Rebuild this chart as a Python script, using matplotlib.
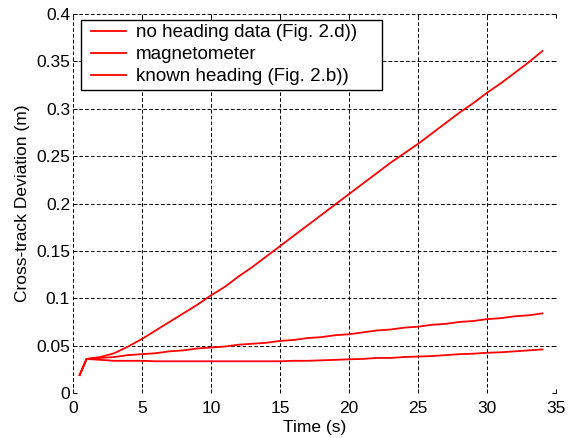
import matplotlib
matplotlib.use('Agg')
import matplotlib.pyplot as plt
from matplotlib.lines import Line2D
from matplotlib.patches import Rectangle

plt.rcParams['font.family'] = ['Liberation Sans', 'DejaVu Sans']
plt.rcParams['lines.scale_dashes'] = False

# time axis (s)
t = [0.5, 1, 2, 3, 4, 5, 6, 7, 8, 9, 10, 11, 12, 13, 14, 15, 16, 17, 18,
     19, 20, 21, 22, 23, 24, 25, 26, 27, 28, 29, 30, 31, 32, 33, 34]

# cross-track deviation (m)
no_heading = [0.019, 0.036, 0.038, 0.042, 0.049, 0.057, 0.066, 0.075, 0.084,
              0.093, 0.103, 0.112, 0.123, 0.133, 0.144, 0.155, 0.166, 0.177,
              0.188, 0.199, 0.210, 0.221, 0.232, 0.243, 0.253, 0.263, 0.274,
              0.285, 0.296, 0.306, 0.317, 0.327, 0.338, 0.349, 0.361]
magnetometer = [0.019, 0.036, 0.037, 0.038, 0.040, 0.041, 0.042, 0.044, 0.045,
                0.047, 0.048, 0.049, 0.051, 0.052, 0.053, 0.055, 0.056, 0.058,
                0.059, 0.061, 0.062, 0.064, 0.066, 0.067, 0.069, 0.070, 0.072,
                0.073, 0.075, 0.076, 0.078, 0.079, 0.081, 0.082, 0.084]
known_heading = [0.019, 0.036, 0.035, 0.034, 0.034, 0.034, 0.0335, 0.0335,
                 0.0335, 0.0335, 0.0335, 0.0335, 0.0335, 0.0335, 0.0335,
                 0.0335, 0.034, 0.034, 0.0345, 0.035, 0.0356, 0.036, 0.037,
                 0.037, 0.038, 0.0385, 0.039, 0.040, 0.041, 0.0415, 0.0425,
                 0.043, 0.044, 0.045, 0.046]

labels = ['no heading data (Fig. 2.d))', 'magnetometer', 'known heading (Fig. 2.b))']
xticks = [0, 5, 10, 15, 20, 25, 30, 35]
yticks = [0, 0.05, 0.1, 0.15, 0.2, 0.25, 0.3, 0.35, 0.4]
ytick_labels = ['0', '0.05', '0.1', '0.15', '0.2', '0.25', '0.3', '0.35', '0.4']

fs = 12.5
leg_fs = 13.5
fig = plt.figure(figsize=(5.79, 4.38), dpi=100)
ax = fig.add_axes([0.1257, 0.1027, 0.8350, 0.8653])

for series, lab in zip([no_heading, magnetometer, known_heading], labels):
    ax.plot(t, series, color='red', lw=1.3, label=lab)

ax.set_xlim(0, 35)
ax.set_ylim(0, 0.4)
ax.set_xticks(xticks)
ax.set_yticks(yticks)
ax.set_yticklabels(ytick_labels)
ax.grid(True, color='black', linestyle=(0, (2.6, 1.6)), lw=0.7)
for s in ax.spines.values():
    s.set_visible(False)
ax.tick_params(direction='in', length=3, width=0.7, top=True, right=True,
               labelsize=fs)
ax.tick_params(axis='x', pad=6)
ax.tick_params(axis='y', pad=2)

ax.set_xlabel('Time (s)', fontsize=fs)
ax.set_ylabel('Cross-track Deviation (m)', fontsize=fs)
ax.xaxis.set_label_coords(0.5, -0.071)
ax.yaxis.set_label_coords(-0.089, 0.5)

# legend box, drawn separately so it can be wider than the text
ax.add_patch(Rectangle((81 / 579, 348 / 438), 301 / 579, 70 / 438,
                       transform=fig.transFigure, facecolor='white',
                       edgecolor='black', lw=1.0, zorder=4, clip_on=False))
leg = ax.legend(loc='upper left', bbox_to_anchor=(91 / 579, 413.8 / 438),
                bbox_transform=fig.transFigure, fontsize=leg_fs,
                frameon=False, borderaxespad=0, borderpad=0,
                handlelength=1.87, handletextpad=0.53, labelspacing=0.26)
leg.set_zorder(5)

fig.savefig('out.png', dpi=100)
